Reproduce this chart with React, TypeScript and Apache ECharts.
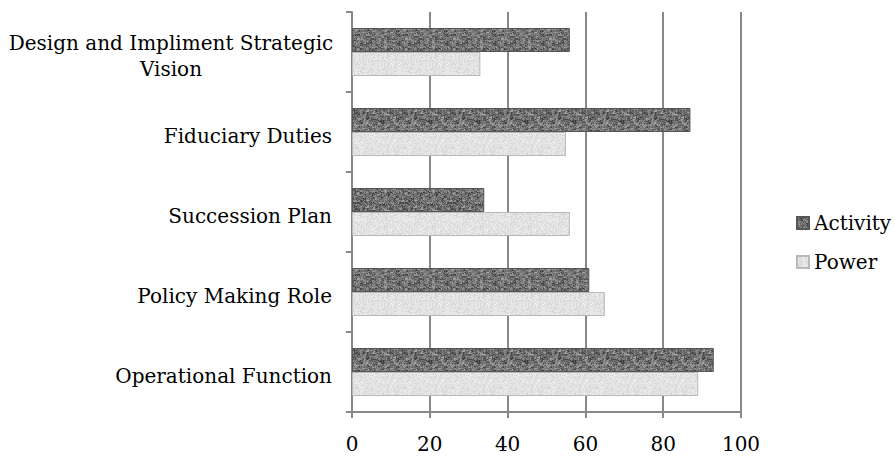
import React, { useEffect, useRef } from "react";
import * as echarts from "echarts";

const categories = [
  "Operational Function",
  "Policy Making Role",
  "Succession Plan",
  "Fiduciary Duties",
  "Design and Impliment Strategic\nVision",
];
const activity = [93, 61, 34, 87, 56];
const power = [89, 65, 56, 55, 33];
const xTicks = [0, 20, 40, 60, 80, 100];

function hash(x: number, y: number, s: number) {
  let n = Math.imul(x, 374761393) + Math.imul(y, 668265263) + Math.imul(s, 1442695041);
  n = Math.imul(n ^ (n >>> 13), 1274126177);
  n = n ^ (n >>> 16);
  return (n >>> 0) / 4294967296;
}

function makeTexture(base: number, amp: number, seed: number, wavy: boolean) {
  const c = document.createElement("canvas");
  c.width = 48;
  c.height = 48;
  const ctx = c.getContext("2d")!;
  const img = ctx.createImageData(48, 48);
  for (let y = 0; y < 48; y++) {
    for (let x = 0; x < 48; x++) {
      let v = base + (hash(x, y, seed) - 0.5) * amp;
      if (wavy) {
        const w = hash(Math.floor(x / 3), Math.floor(y / 2), seed + 7) - 0.5;
        v += w * amp * 0.8;
      }
      v = Math.max(0, Math.min(255, v));
      const i = (y * 48 + x) * 4;
      img.data[i] = v;
      img.data[i + 1] = v;
      img.data[i + 2] = v;
      img.data[i + 3] = 255;
    }
  }
  ctx.putImageData(img, 0, 0);
  return c;
}

export default function App() {
  const ref = useRef<HTMLDivElement>(null);
  useEffect(() => {
    if (!ref.current) return;
    const chart = echarts.init(ref.current, undefined, { renderer: "svg" });
    const darkTex = makeTexture(112, 70, 3, true);
    const lightTex = makeTexture(226, 30, 11, false);
    const font = "DejaVu Serif";
    chart.setOption({
      animation: false,
      backgroundColor: "#ffffff",
      grid: { left: 352, right: 154, top: 12, bottom: 45, containLabel: false },
      legend: {
        orient: "vertical",
        left: 791,
        top: 206,
        data: ["Activity", "Power"],
        itemWidth: 12,
        itemHeight: 12,
        itemGap: 15,
        icon: "rect",
        textStyle: { fontFamily: font, fontSize: 20, color: "#000", lineHeight: 24 },
      },
      xAxis: {
        type: "value",
        min: 0,
        max: 100,
        interval: 20,
        axisLine: { show: true, lineStyle: { color: "#888", width: 2 } },
        axisTick: { show: true, length: 6, lineStyle: { color: "#888", width: 2 } },
        splitLine: { show: true, lineStyle: { color: "#888", width: 2 } },
        axisLabel: {
          fontFamily: font,
          fontSize: 20,
          color: "#000",
          margin: 22,
          customValues: xTicks,
        },
      },
      yAxis: {
        type: "category",
        data: categories,
        axisLine: { show: true, lineStyle: { color: "#888", width: 2 } },
        axisTick: { show: true, length: 6, lineStyle: { color: "#888", width: 2 } },
        axisLabel: {
          fontFamily: font,
          fontSize: 20,
          color: "#000",
          margin: 20,
          lineHeight: 26,
          padding: [8, 0, 0, 0],
          formatter: (v: string) => (v.indexOf("\n") >= 0 ? "{c|" + v.split("\n").join("}\n{c|") + "}" : v),
          rich: {
            c: { width: 322, align: "center", fontFamily: font, fontSize: 20, color: "#000", lineHeight: 26 },
          },
        },
      },
      series: [
        {
          name: "Activity",
          type: "bar",
          data: activity,
          barGap: "0%",
          barCategoryGap: "40%",
          itemStyle: {
            color: { image: darkTex, repeat: "repeat" },
            borderColor: "#555",
            borderWidth: 1,
          },
        },
        {
          name: "Power",
          type: "bar",
          data: power,
          barGap: "0%",
          barCategoryGap: "40%",
          itemStyle: {
            color: { image: lightTex, repeat: "repeat" },
            borderColor: "#b8b8b8",
            borderWidth: 1,
          },
        },
      ],
    });
    return () => chart.dispose();
  }, []);
  return <div ref={ref} style={{ width: 895, height: 457, position: "absolute", left: 0, top: 0 }} />;
}
